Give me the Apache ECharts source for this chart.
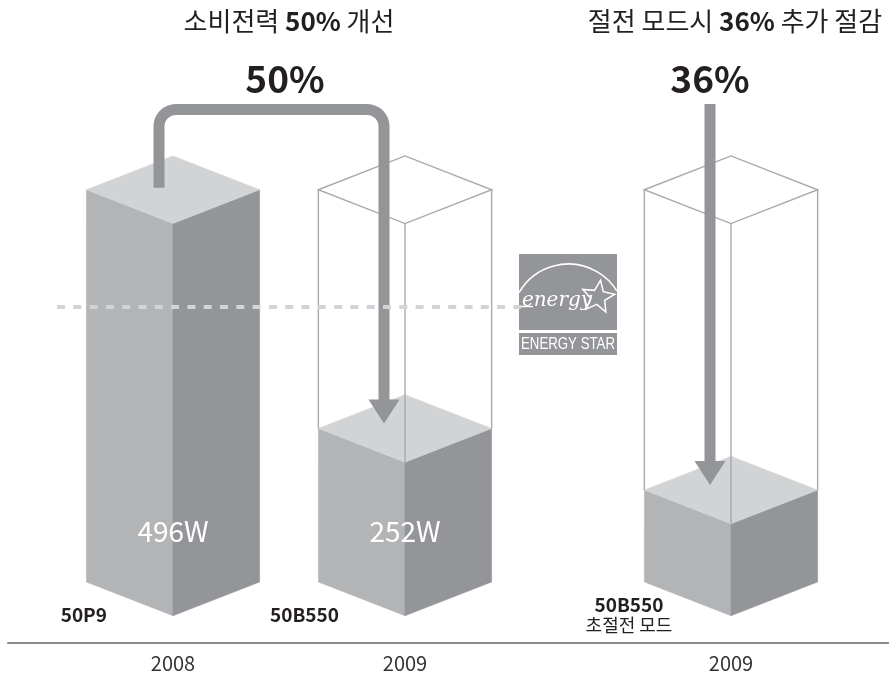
<!DOCTYPE html>
<html>
<head>
<meta charset="utf-8">
<script src="https://cdn.jsdelivr.net/npm/echarts@6/dist/echarts.min.js"></script>
<style>
  html, body { margin: 0; padding: 0; background: #fff; }
  #chart { width: 889px; height: 676px; }
</style>
</head>
<body>
<div id="chart"></div>
<script>
// Power consumption of 50-inch PDP TVs (watts)
const years = ['2008', '2009', '2009'];
const models = ['50P9', '50B550', '50B550'];
const modeNotes = ['', '', '초절전 모드'];
const watts = [496, 252, 189];
const showWatt = [true, true, false];

// Two panels: bars 0-1 compare generations, bar 2 shows the saving mode
const panelBars = [[0, 1], [2]];
const panelTitles = [
  ['소비전력 ', '50%', ' 개선'],
  ['절전 모드시 ', '36%', ' 추가 절감']
];
const reductionLabels = ['50%', '36%'];
const energyStarLevel = 376;

// Value axis floor / ceiling shared by both panels
const Y_MIN = 95;
const Y_MAX = 600;

const FONT = '"Noto Sans CJK KR", "Noto Sans", sans-serif';
const C_TOP = '#d1d3d4';
const C_LEFT = '#b2b4b6';
const C_RIGHT = '#939598';
const C_ARROW = '#939598';
const C_OUTLINE = '#a7a9ac';
const C_TEXT = '#231f20';
const Y_ARROW = 109.5;

function prismGeom(api, cat, v) {
  const p = api.coord([cat, v]);
  const yb = api.coord([cat, Y_MIN])[1];
  const band = api.size([1, 0])[0];
  const w = band * 0.3735;
  const d = w * 0.39;
  return { cx: p[0], yt: p[1], yb: yb, w: w, d: d };
}

function renderBar(params, api) {
  const cat = api.value(0);
  const v = api.value(1);
  const ghost = api.value(2);
  const idx = api.value(3);
  const g = prismGeom(api, cat, v);
  const { cx, yt, yb, w, d } = g;
  const face = (pts, fill) => ({
    type: 'polygon',
    shape: { points: pts },
    style: { fill: fill, stroke: fill, lineWidth: 0.5 }
  });
  const children = [
    face([[cx - w, yt], [cx, yt + d], [cx, yb + d], [cx - w, yb]], C_LEFT),
    face([[cx, yt + d], [cx + w, yt], [cx + w, yb], [cx, yb + d]], C_RIGHT),
    face([[cx - w, yt], [cx, yt - d], [cx + w, yt], [cx, yt + d]], C_TOP)
  ];
  // wireframe of the previous generation's level
  if (!isNaN(ghost)) {
    const yg = api.coord([cat, ghost])[1];
    const ls = { stroke: C_OUTLINE, lineWidth: 1.4, fill: null };
    children.push({
      type: 'polygon',
      shape: { points: [[cx - w, yg], [cx, yg - d], [cx + w, yg], [cx, yg + d]] },
      style: ls
    });
    children.push({ type: 'line', shape: { x1: cx - w, y1: yg, x2: cx - w, y2: yt }, style: ls });
    children.push({ type: 'line', shape: { x1: cx + w, y1: yg, x2: cx + w, y2: yt }, style: ls });
    children.push({ type: 'line', shape: { x1: cx, y1: yg + d, x2: cx, y2: yt + d }, style: ls });
  }
  if (showWatt[idx]) {
    children.push({
      type: 'text',
      style: {
        text: watts[idx] + 'W',
        x: cx, y: yb - 51,
        fill: '#ffffff',
        fontSize: 28, fontFamily: FONT,
        align: 'center', verticalAlign: 'middle'
      }
    });
  }
  if (modeNotes[idx]) {
    children.push({
      type: 'text',
      style: {
        text: '{m|' + models[idx] + '}\n{s|' + modeNotes[idx] + '}',
        x: cx - 102, y: yb + 33,
        align: 'center', verticalAlign: 'middle',
        rich: {
          m: { fontSize: 19, fontWeight: 'bold', fontFamily: FONT, fill: C_TEXT, lineHeight: 20, align: 'center' },
          s: { fontSize: 18, fontFamily: FONT, fill: C_TEXT, lineHeight: 20, align: 'center' }
        }
      }
    });
  } else {
    children.push({
      type: 'text',
      style: {
        text: models[idx],
        x: cx - 66, y: yb + 33,
        fill: C_TEXT,
        fontSize: 19, fontWeight: 'bold', fontFamily: FONT,
        align: 'right', verticalAlign: 'middle'
      }
    });
  }
  return { type: 'group', children: children };
}

function renderArrow(params, api) {
  const toCat = api.value(2);
  const toVal = api.value(3);
  const labelIdx = api.value(4);
  const t = prismGeom(api, toCat, toVal);
  const endX = t.cx - 21;
  const tipY = t.yt - 5;
  const headH = 24, headW = 15.5, lw = 11, r = 17;
  const fromVal = api.value(1);
  let pathData, labelX;
  if (!isNaN(fromVal)) {
    const f = prismGeom(api, api.value(0), fromVal);
    const sx = f.cx - 14, sy = f.yt - 2;
    pathData = 'M' + sx + ' ' + sy +
      ' L' + sx + ' ' + (Y_ARROW + r) +
      ' A' + r + ' ' + r + ' 0 0 1 ' + (sx + r) + ' ' + Y_ARROW +
      ' L' + (endX - r) + ' ' + Y_ARROW +
      ' A' + r + ' ' + r + ' 0 0 1 ' + endX + ' ' + (Y_ARROW + r) +
      ' L' + endX + ' ' + (tipY - headH + 1);
    labelX = (sx + endX) / 2 + (endX - sx) * 0.06;
  } else {
    pathData = 'M' + endX + ' ' + (Y_ARROW - lw / 2) + ' L' + endX + ' ' + (tipY - headH + 1);
    labelX = endX;
  }
  return {
    type: 'group',
    children: [
      {
        type: 'path',
        shape: { pathData: pathData },
        style: { stroke: C_ARROW, lineWidth: lw, fill: null, lineCap: 'butt', lineJoin: 'miter' }
      },
      {
        type: 'polygon',
        shape: { points: [[endX - headW, tipY - headH], [endX + headW, tipY - headH], [endX, tipY]] },
        style: { fill: C_ARROW }
      },
      {
        type: 'text',
        style: {
          text: reductionLabels[labelIdx],
          x: labelX, y: 79,
          fill: C_TEXT,
          fontSize: 37, fontWeight: 'bold', fontFamily: FONT,
          align: 'center', verticalAlign: 'middle'
        }
      }
    ]
  };
}

// Series data built from the arrays above
const barData = panelBars.map(ids => ids.map((i, k) => [
  k, watts[i], i === 0 ? null : watts[0], i
]));
const arrowData = [
  [[0, watts[0], 1, watts[1], 0]],
  [[0, null, 0, watts[2], 1]]
];

// Energy Star badge drawn at the end of the threshold line
function starPoints(cx, cy, ro, ri, rot) {
  const pts = [];
  for (let k = 0; k < 10; k++) {
    const a = rot - Math.PI / 2 + k * Math.PI / 5;
    const rr = k % 2 === 0 ? ro : ri;
    pts.push([cx + rr * Math.cos(a), cy + rr * Math.sin(a)]);
  }
  return pts;
}

const chart = echarts.init(document.getElementById('chart'), null, { renderer: 'canvas' });

const gridTop = 88, gridBottom = 94;

chart.setOption({
  animation: false,
  backgroundColor: '#ffffff',
  grid: [
    { left: 57, width: 464, top: gridTop, bottom: gridBottom },
    { left: 615, width: 232, top: gridTop, bottom: gridBottom },
    { left: 8, right: 0, top: 600, bottom: 33 }
  ],
  xAxis: [
    {
      type: 'category', gridIndex: 0,
      data: panelBars[0].map(i => years[i]),
      offset: 60,
      axisLine: { show: false }, axisTick: { show: false },
      axisLabel: { fontSize: 20, color: '#333333', fontFamily: FONT, margin: 11 }
    },
    {
      type: 'category', gridIndex: 1,
      data: panelBars[1].map(i => years[i]),
      offset: 60,
      axisLine: { show: false }, axisTick: { show: false },
      axisLabel: { fontSize: 20, color: '#333333', fontFamily: FONT, margin: 11 }
    },
    {
      type: 'value', gridIndex: 2, min: 0, max: 1,
      axisLine: { show: true, lineStyle: { color: '#8c8c8c', width: 2 } },
      axisTick: { show: false }, axisLabel: { show: false }, splitLine: { show: false }
    }
  ],
  yAxis: [
    { type: 'value', gridIndex: 0, min: Y_MIN, max: Y_MAX, show: false },
    { type: 'value', gridIndex: 1, min: Y_MIN, max: Y_MAX, show: false },
    { type: 'value', gridIndex: 2, min: 0, max: 1, show: false }
  ],
  series: [
    {
      type: 'custom', name: 'panel1-bars',
      xAxisIndex: 0, yAxisIndex: 0,
      data: barData[0],
      renderItem: renderBar,
      z: 2,
      markLine: {
        silent: true,
        symbol: 'none',
        label: { show: false },
        lineStyle: { color: '#d1d3d4', width: 4, type: [8, 8.3], opacity: 1 },
        data: [{ yAxis: energyStarLevel }]
      }
    },
    {
      type: 'custom', name: 'panel2-bars',
      xAxisIndex: 1, yAxisIndex: 1,
      data: barData[1],
      renderItem: renderBar,
      z: 2
    },
    {
      type: 'custom', name: 'panel1-arrow',
      xAxisIndex: 0, yAxisIndex: 0,
      encode: { x: [0, 2], y: [1, 3] },
      data: arrowData[0],
      renderItem: renderArrow,
      z: 3
    },
    {
      type: 'custom', name: 'panel2-arrow',
      xAxisIndex: 1, yAxisIndex: 1,
      encode: { x: [0, 2], y: [1, 3] },
      data: arrowData[1],
      renderItem: renderArrow,
      z: 3
    },
    {
      type: 'line', xAxisIndex: 2, yAxisIndex: 2, data: [], silent: true
    }
  ],
  graphic: [
    ...panelTitles.map((parts, p) => ({
      type: 'text',
      x: p === 0 ? 289 : 735,
      y: 21,
      z: 10,
      style: {
        text: '{n|' + parts[0] + '}{b|' + parts[1] + '}{n|' + parts[2] + '}',
        align: 'center', verticalAlign: 'middle',
        rich: {
          n: { fontSize: 26, fontFamily: FONT, fill: C_TEXT },
          b: { fontSize: 26, fontFamily: FONT, fontWeight: 'bold', fill: C_TEXT }
        }
      }
    })),
    {
      type: 'group',
      x: 519, y: 254,
      z: 20,
      children: [
        { type: 'rect', shape: { x: 0, y: 0, width: 98, height: 76 }, style: { fill: '#939598' } },
        {
          type: 'arc',
          shape: { cx: 49.5, cy: 67, r: 57, startAngle: -2.62, endAngle: -0.553, clockwise: true },
          style: { stroke: '#ffffff', lineWidth: 1.6, fill: null }
        },
        {
          type: 'line',
          shape: { x1: 1, y1: 52.5, x2: 14, y2: 52.5 },
          style: { stroke: '#ffffff', lineWidth: 1.5 }
        },
        {
          type: 'text',
          x: 38, y: 47,
          style: {
            text: 'energy',
            fill: '#ffffff',
            font: 'italic 20px "DejaVu Serif", serif',
            align: 'center', verticalAlign: 'middle'
          }
        },
        {
          type: 'polygon',
          shape: { points: starPoints(79, 43, 17, 7.5, 0.15) },
          style: { stroke: '#ffffff', lineWidth: 1.5, fill: null }
        },
        { type: 'rect', shape: { x: 0, y: 79, width: 98, height: 22 }, style: { fill: '#939598' } },
        {
          type: 'group',
          x: 49, y: 90.5,
          scaleX: 0.78,
          children: [
            {
              type: 'text',
              x: 0, y: 0,
              style: {
                text: 'ENERGY STAR',
                fill: '#ffffff',
                font: '17px "Liberation Sans", sans-serif',
                align: 'center', verticalAlign: 'middle'
              }
            }
          ]
        }
      ]
    }
  ]
});
</script>
</body>
</html>
